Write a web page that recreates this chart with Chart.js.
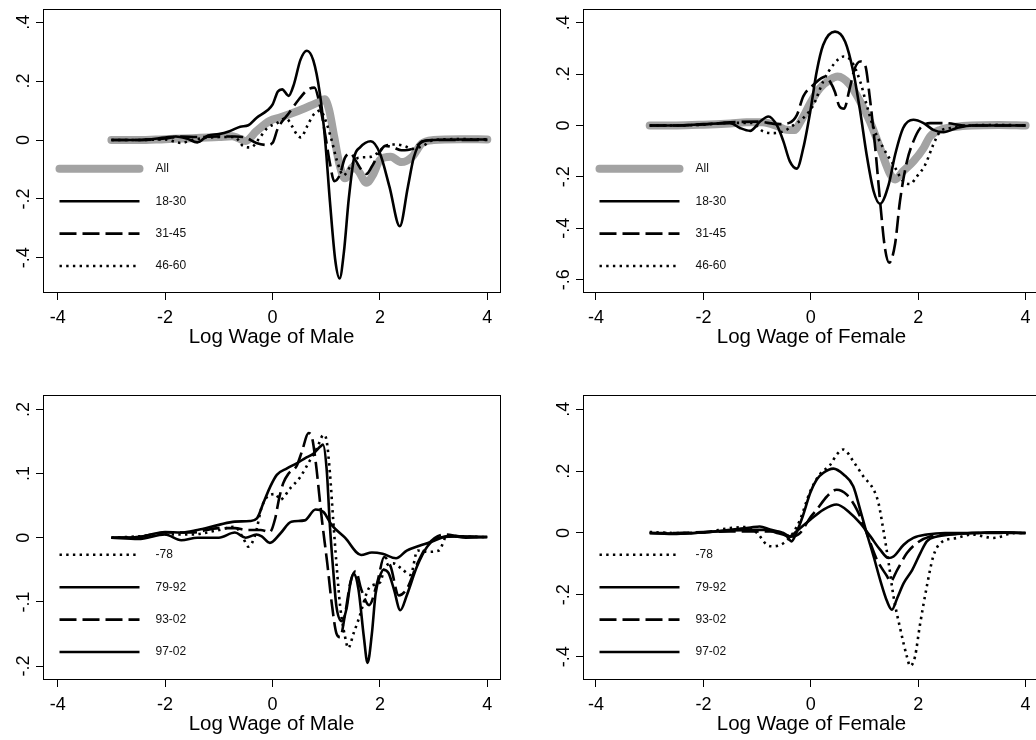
<!DOCTYPE html>
<html>
<head>
<meta charset="utf-8">
<title>Log Wage</title>
<script src="https://cdn.jsdelivr.net/npm/chart.js@4.4.1/dist/chart.umd.min.js"></script>
<style>
  html, body { margin: 0; padding: 0; background: #fff; overflow: hidden; }
  body { width: 1036px; height: 740px; position: relative; }
  canvas { position: absolute; }
</style>
</head>
<body>
<canvas id="p1" width="518" height="353" style="left:0;top:0"></canvas>
<canvas id="p2" width="522" height="353" style="left:518px;top:0"></canvas>
<canvas id="p3" width="518" height="370" style="left:0;top:370px"></canvas>
<canvas id="p4" width="522" height="370" style="left:518px;top:370px"></canvas>
<script>
const xTicks = [-4, -2, 0, 2, 4];
const xTickLabels = ['-4', '-2', '0', '2', '4'];

const yTicksMaleAge = [-0.4, -0.2, 0, 0.2, 0.4];
const yLabelsMaleAge = ['-.4', '-.2', '0', '.2', '.4'];
const yTicksFemAge = [-0.6, -0.4, -0.2, 0, 0.2, 0.4];
const yLabelsFemAge = ['-.6', '-.4', '-.2', '0', '.2', '.4'];
const yTicksMaleYr = [-0.2, -0.1, 0, 0.1, 0.2];
const yLabelsMaleYr = ['-.2', '-.1', '0', '.1', '.2'];
const yTicksFemYr = [-0.4, -0.2, 0, 0.2, 0.4];
const yLabelsFemYr = ['-.4', '-.2', '0', '.2', '.4'];

// top left: male, by age
const maleAgeAllX = [-3, -2.5, -2, -1.5, -1, -0.75, -0.5, -0.3, -0.05, 0.15, 0.35, 0.6, 0.85, 0.97, 1.05, 1.15, 1.25, 1.35, 1.5, 1.6, 1.75, 1.88, 2.0, 2.2, 2.4, 2.6, 2.78, 3.0, 3.5, 4.0];
const maleAgeAllY = [0, 0, 0.003, 0.006, 0.01, 0.013, -0.003, 0.03, 0.065, 0.077, 0.09, 0.108, 0.128, 0.138, 0.105, 0.01, -0.085, -0.13, -0.092, -0.105, -0.145, -0.115, -0.068, -0.057, -0.075, -0.057, -0.012, 0, 0.003, 0.002];
const maleAge1830X = [-3, -2.5, -2, -1.8, -1.6, -1.4, -1.2, -1, -0.8, -0.6, -0.45, -0.3, -0.1, 0, 0.1, 0.18, 0.3, 0.4, 0.52, 0.64, 0.76, 0.88, 0.98, 1.07, 1.17, 1.25, 1.33, 1.42, 1.52, 1.63, 1.83, 2.0, 2.18, 2.37, 2.52, 2.63, 2.78, 3.0, 3.5, 4];
const maleAge1830Y = [0, 0, 0.008, 0.012, 0.005, -0.008, 0.015, 0.02, 0.03, 0.045, 0.05, 0.075, 0.1, 0.12, 0.165, 0.172, 0.15, 0.19, 0.272, 0.303, 0.27, 0.16, 0, -0.21, -0.41, -0.47, -0.38, -0.2, -0.06, -0.025, -0.004, -0.045, -0.16, -0.293, -0.16, -0.06, -0.005, 0, 0.002, 0.002];
const maleAge3145X = [-3, -2.5, -2, -1.7, -1.4, -1, -0.7, -0.5, -0.3, -0.1, 0, 0.1, 0.3, 0.5, 0.65, 0.78, 0.88, 0.98, 1.07, 1.15, 1.25, 1.35, 1.45, 1.55, 1.65, 1.75, 1.85, 2.0, 2.1, 2.25, 2.4, 2.6, 2.8, 3.0, 4];
const maleAge3145Y = [0, 0, 0.005, 0.012, 0.01, 0.012, 0.012, 0.008, -0.01, -0.017, -0.01, 0.04, 0.09, 0.14, 0.17, 0.178, 0.12, 0.02, -0.08, -0.14, -0.12, -0.06, -0.045, -0.07, -0.1, -0.115, -0.09, -0.04, -0.02, -0.025, -0.035, -0.03, -0.005, 0, 0];
const maleAge4660X = [-3, -2.5, -2, -1.7, -1.5, -1.2, -1, -0.7, -0.55, -0.4, -0.25, -0.1, 0.08, 0.25, 0.37, 0.46, 0.53, 0.64, 0.76, 0.89, 1.0, 1.1, 1.2, 1.32, 1.45, 1.6, 1.8, 1.95, 2.1, 2.3, 2.45, 2.6, 2.8, 3.0, 3.5, 4];
const maleAge4660Y = [0, 0, 0.002, -0.01, 0, 0.008, 0.01, 0.01, -0.02, -0.025, 0.005, 0.04, 0.057, 0.074, 0.045, 0.017, 0.009, 0.045, 0.085, 0.1, 0.06, 0, -0.07, -0.12, -0.09, -0.06, -0.058, -0.045, -0.02, -0.015, -0.02, -0.03, -0.02, 0, 0.003, 0.002];

// top right: female, by age
const femAgeAllX = [-3, -2.5, -2, -1.5, -1.2, -0.9, -0.6, -0.45, -0.3, -0.2, -0.1, 0, 0.17, 0.36, 0.5, 0.73, 0.92, 1.1, 1.29, 1.48, 1.57, 1.72, 1.91, 2.1, 2.22, 2.41, 2.7, 3, 3.5, 4];
const femAgeAllY = [0, 0, 0.003, 0.008, 0.012, 0.012, -0.005, -0.017, -0.018, 0.012, 0.05, 0.09, 0.145, 0.178, 0.19, 0.158, 0.093, 0.016, -0.088, -0.19, -0.21, -0.178, -0.14, -0.088, -0.043, -0.017, -0.005, 0, 0.002, 0];
const femAge1830X = [-3, -2.5, -2, -1.5, -1.32, -1.13, -0.94, -0.79, -0.63, -0.51, -0.39, -0.26, -0.14, -0.01, 0.11, 0.23, 0.45, 0.64, 0.79, 0.92, 1.04, 1.17, 1.29, 1.45, 1.57, 1.72, 1.91, 2.1, 2.28, 2.47, 2.72, 3, 4];
const femAge1830Y = [0, 0, 0.005, 0.009, -0.01, -0.021, 0.016, 0.035, 0, -0.062, -0.14, -0.168, -0.088, 0.054, 0.21, 0.313, 0.365, 0.326, 0.21, 0.054, -0.114, -0.256, -0.305, -0.23, -0.114, -0.01, 0.022, 0.009, -0.017, -0.026, -0.01, 0, 0];
const femAge3145X = [-3, -2.5, -2, -1.5, -1, -0.6, -0.4, -0.26, -0.14, 0.05, 0.27, 0.36, 0.45, 0.53, 0.62, 0.72, 0.82, 0.92, 1.01, 1.1, 1.2, 1.29, 1.38, 1.46, 1.57, 1.66, 1.79, 1.91, 2.04, 2.22, 2.53, 2.84, 3.5, 4];
const femAge3145Y = [0, 0, 0.004, 0.012, 0.015, 0.005, 0.01, 0.04, 0.113, 0.158, 0.19, 0.17, 0.13, 0.075, 0.065, 0.14, 0.223, 0.249, 0.236, 0.106, -0.088, -0.295, -0.476, -0.534, -0.46, -0.295, -0.14, -0.062, -0.01, 0.009, 0.009, 0, 0, 0];
const femAge4660X = [-3, -2.5, -2, -1.5, -1.1, -0.89, -0.7, -0.51, -0.33, -0.14, 0.05, 0.23, 0.42, 0.61, 0.76, 0.92, 1.04, 1.17, 1.35, 1.54, 1.72, 1.85, 1.97, 2.13, 2.28, 2.41, 2.6, 2.97, 3.5, 4];
const femAge4660Y = [0, 0, 0.003, 0.01, 0.01, -0.023, -0.03, -0.023, 0, 0.029, 0.08, 0.171, 0.236, 0.268, 0.249, 0.171, 0.08, -0.01, -0.088, -0.153, -0.217, -0.228, -0.2, -0.153, -0.075, -0.023, -0.01, 0, 0.002, 0];

// bottom left: male, by period
const maleYr78X = [-3, -2.5, -2, -1.5, -1, -0.7, -0.55, -0.45, -0.32, -0.2, -0.04, 0.06, 0.14, 0.33, 0.52, 0.7, 0.83, 0.95, 1.01, 1.07, 1.13, 1.2, 1.26, 1.35, 1.41, 1.51, 1.6, 1.82, 2.0, 2.1, 2.25, 2.4, 2.57, 2.7, 2.9, 3.1, 3.25, 3.5, 4];
const maleYr78Y = [0, 0.002, 0.005, 0.005, 0.012, 0.017, 0, -0.014, 0.005, 0.048, 0.067, 0.068, 0.059, 0.077, 0.095, 0.121, 0.14, 0.16, 0.15, 0.1, 0.028, -0.05, -0.107, -0.154, -0.172, -0.149, -0.128, -0.076, -0.07, -0.045, -0.04, -0.048, -0.058, -0.02, -0.022, -0.02, 0.003, 0.002, 0.001];
const maleYr7992X = [-3, -2.5, -2, -1.7, -1.4, -1, -0.7, -0.42, -0.29, -0.17, -0.04, 0.08, 0.27, 0.45, 0.61, 0.76, 0.89, 0.94, 1.01, 1.07, 1.13, 1.19, 1.29, 1.38, 1.45, 1.51, 1.6, 1.7, 1.77, 1.85, 1.92, 2.0, 2.07, 2.16, 2.26, 2.38, 2.5, 2.69, 2.88, 3.1, 3.5, 4];
const maleYr7992Y = [0, 0.001, 0.009, 0.008, 0.012, 0.02, 0.025, 0.026, 0.03, 0.054, 0.08, 0.098, 0.108, 0.116, 0.124, 0.131, 0.142, 0.145, 0.105, 0.017, -0.05, -0.107, -0.13, -0.11, -0.071, -0.056, -0.08, -0.154, -0.195, -0.15, -0.087, -0.06, -0.05, -0.055, -0.08, -0.113, -0.09, -0.045, -0.014, 0, 0.002, 0.001];
const maleYr9302X = [-3, -2.5, -2, -1.5, -1, -0.7, -0.48, -0.22, -0.05, 0.05, 0.12, 0.2, 0.3, 0.45, 0.55, 0.67, 0.73, 0.8, 0.92, 1.02, 1.1, 1.19, 1.26, 1.35, 1.45, 1.55, 1.65, 1.8, 1.95, 2.08, 2.2, 2.35, 2.5, 2.7, 2.9, 3.2, 3.5, 4];
const maleYr9302Y = [0, 0.001, 0.008, 0.008, 0.015, 0.015, 0.012, 0.012, 0.009, 0.03, 0.06, 0.085, 0.1, 0.112, 0.135, 0.163, 0.158, 0.121, 0.028, -0.04, -0.1, -0.149, -0.155, -0.12, -0.07, -0.052, -0.08, -0.105, -0.07, -0.03, -0.045, -0.09, -0.08, -0.04, -0.01, 0.005, 0.002, 0.001];
const maleYr9702X = [-3, -2.5, -2, -1.7, -1.4, -1, -0.7, -0.5, -0.3, -0.2, -0.05, 0.15, 0.35, 0.6, 0.8, 0.95, 1.1, 1.35, 1.65, 1.85, 2.05, 2.3, 2.5, 2.75, 3.0, 3.3, 3.6, 4];
const maleYr9702Y = [0, -0.002, 0.005, -0.004, 0, 0, 0.008, 0, 0.005, 0.002, -0.008, 0.007, 0.025, 0.027, 0.044, 0.04, 0.02, 0, -0.027, -0.023, -0.025, -0.032, -0.02, -0.012, -0.005, 0.003, 0, 0.001];

// bottom right: female, by period
const femYr78X = [-3, -2.5, -2, -1.5, -1.2, -1.0, -0.82, -0.7, -0.51, -0.33, -0.2, -0.01, 0.17, 0.36, 0.48, 0.61, 0.79, 0.98, 1.17, 1.26, 1.35, 1.45, 1.54, 1.67, 1.79, 1.85, 1.94, 2.03, 2.16, 2.28, 2.41, 2.72, 3.0, 3.4, 3.8, 4];
const femYr78Y = [0.003, 0, 0.002, 0.016, 0.019, 0, -0.038, -0.043, -0.033, 0, 0.043, 0.135, 0.19, 0.22, 0.253, 0.27, 0.232, 0.183, 0.14, 0.097, 0.011, -0.097, -0.205, -0.313, -0.4, -0.43, -0.4, -0.3, -0.173, -0.076, -0.033, -0.016, -0.005, -0.016, 0, 0];
const femYr7992X = [-3, -2.5, -2, -1.5, -1, -0.82, -0.63, -0.45, -0.36, -0.27, -0.15, -0.01, 0.11, 0.23, 0.42, 0.61, 0.79, 0.92, 1.04, 1.17, 1.29, 1.42, 1.51, 1.61, 1.73, 1.89, 2.04, 2.16, 2.35, 2.6, 3, 3.5, 4];
const femYr7992Y = [0, -0.002, 0.002, 0.008, 0.01, 0.01, 0, -0.01, -0.027, 0, 0.054, 0.13, 0.173, 0.194, 0.208, 0.189, 0.151, 0.075, 0, -0.076, -0.151, -0.221, -0.248, -0.21, -0.162, -0.119, -0.065, -0.027, -0.011, -0.005, 0, 0.002, 0];
const femYr9302X = [-3, -2.5, -2, -1.5, -1, -0.7, -0.5, -0.38, -0.2, -0.01, 0.11, 0.3, 0.48, 0.67, 0.86, 1.04, 1.23, 1.42, 1.48, 1.61, 1.79, 1.98, 2.22, 2.6, 3, 4];
const femYr9302Y = [0, 0, 0.003, 0.005, 0.005, 0.005, 0, -0.012, 0, 0.05, 0.075, 0.118, 0.14, 0.124, 0.075, 0, -0.086, -0.14, -0.157, -0.119, -0.065, -0.032, -0.011, -0.005, 0, 0];
const femYr9702X = [-3, -2.5, -2, -1.5, -1.12, -0.95, -0.76, -0.51, -0.39, -0.27, -0.01, 0.23, 0.48, 0.73, 0.92, 1.11, 1.29, 1.45, 1.54, 1.73, 1.91, 2.16, 2.5, 3, 3.5, 4];
const femYr9702Y = [0, -0.003, 0.002, 0.01, 0.018, 0.021, 0.011, 0, -0.011, 0.005, 0.043, 0.075, 0.092, 0.065, 0.032, -0.011, -0.054, -0.081, -0.076, -0.038, -0.016, -0.005, 0, 0, 0.002, 0];

const FONT = '"Liberation Sans", Arial, Helvetica, sans-serif';

const estilos = {
  all:    { color: '#a3a3a3', width: 8, dash: [], cap: 'round' },
  solid:  { color: '#000', width: 2.6, dash: [], cap: 'butt' },
  dashed: { color: '#000', width: 2.6, dash: [17, 6], cap: 'butt' },
  dotted: { color: '#000', width: 2.6, dash: [2.4, 4.3], cap: 'butt' }
};

function serie(label, xs, ys, estilo, orden) {
  const e = estilos[estilo];
  return {
    label,
    data: xs.map((x, i) => ({ x, y: ys[i] })),
    borderColor: e.color,
    borderWidth: e.width,
    borderDash: e.dash,
    borderCapStyle: e.cap,
    borderJoinStyle: 'round',
    pointRadius: 0,
    fill: false,
    cubicInterpolationMode: 'monotone',
    order: orden || 0
  };
}

// frame around the plot region and the legend inside it
const marcoYLeyenda = {
  id: 'marcoYLeyenda',
  afterDatasetsDraw(chart) {
    const { ctx, chartArea: a } = chart;
    ctx.save();
    ctx.strokeStyle = '#000';
    ctx.lineWidth = 1;
    ctx.setLineDash([]);
    ctx.strokeRect(Math.round(a.left) + 0.5, Math.round(a.top) + 0.5, Math.round(a.right - a.left), Math.round(a.bottom - a.top));

    chart.data.datasets.forEach((ds, i) => {
      const y = a.top + 159.8 + 32.4 * i;
      ctx.strokeStyle = ds.borderColor;
      ctx.lineWidth = ds.borderWidth;
      ctx.lineCap = ds.borderCapStyle;
      ctx.setLineDash(ds.borderDash);
      ctx.beginPath();
      ctx.moveTo(a.left + 16.5, y);
      ctx.lineTo(a.left + 96.5, y);
      ctx.stroke();
      ctx.setLineDash([]);
      ctx.fillStyle = '#111';
      ctx.font = `12px ${FONT}`;
      ctx.textBaseline = 'middle';
      ctx.textAlign = 'left';
      ctx.fillText(ds.label, a.left + 112.5, y);
    });
    ctx.restore();
  }
};

function panel(id, datasets, cfg) {
  return new Chart(document.getElementById(id), {
    type: 'line',
    data: { datasets },
    options: {
      responsive: false,
      animation: false,
      layout: { padding: { top: cfg.top, right: cfg.right, left: 0, bottom: 0 } },
      plugins: { legend: { display: false }, tooltip: { enabled: false } },
      scales: {
        x: {
          type: 'linear',
          min: cfg.xMin,
          max: cfg.xMax,
          afterBuildTicks: s => { s.ticks = xTicks.map(v => ({ value: v })); },
          afterFit: s => { s.height = 61; s.paddingLeft = 0; s.paddingRight = 0; },
          border: { display: false },
          grid: { drawOnChartArea: false, drawTicks: true, tickLength: 8, color: '#000', lineWidth: 1 },
          ticks: {
            font: { family: FONT, size: 18 },
            color: '#000',
            padding: 7.5,
            autoSkip: false,
            maxRotation: 0,
            callback: (v, i) => xTickLabels[i]
          },
          title: {
            display: true,
            text: cfg.title,
            font: { family: FONT, size: 20.5 },
            color: '#000',
            padding: { top: 0, bottom: 3.2 }
          }
        },
        y: {
          type: 'linear',
          min: cfg.yMin,
          max: cfg.yMax,
          afterBuildTicks: s => { s.ticks = cfg.yTicks.map(v => ({ value: v })); },
          afterFit: s => { s.width = cfg.yWidth; s.paddingTop = 0; s.paddingBottom = 0; },
          border: { display: false },
          grid: { drawOnChartArea: false, drawTicks: true, tickLength: 7, color: '#000', lineWidth: 1 },
          ticks: {
            font: { family: FONT, size: 18 },
            color: '#000',
            padding: 1.5,
            autoSkip: false,
            minRotation: 90,
            maxRotation: 90,
            crossAlign: 'center',
            callback: (v, i) => cfg.yLabels[i]
          }
        }
      }
    },
    plugins: [marcoYLeyenda]
  });
}

panel('p1', [
  serie('All', maleAgeAllX, maleAgeAllY, 'all', 1),
  serie('18-30', maleAge1830X, maleAge1830Y, 'solid'),
  serie('31-45', maleAge3145X, maleAge3145Y, 'dashed'),
  serie('46-60', maleAge4660X, maleAge4660Y, 'dotted')
], { top: 9, right: 18, yWidth: 43, xMin: -4.274, xMax: 4.2365, yMin: -0.516, yMax: 0.4448,
     yTicks: yTicksMaleAge, yLabels: yLabelsMaleAge, title: 'Log Wage of Male' });

panel('p2', [
  serie('All', femAgeAllX, femAgeAllY, 'all', 1),
  serie('18-30', femAge1830X, femAge1830Y, 'solid'),
  serie('31-45', femAge3145X, femAge3145Y, 'dashed'),
  serie('46-60', femAge4660X, femAge4660Y, 'dotted')
], { top: 9, right: 0, yWidth: 65, xMin: -4.242, xMax: 4.268, yMin: -0.648, yMax: 0.453,
     yTicks: yTicksFemAge, yLabels: yLabelsFemAge, title: 'Log Wage of Female' });

panel('p3', [
  serie('-78', maleYr78X, maleYr78Y, 'dotted'),
  serie('79-92', maleYr7992X, maleYr7992Y, 'solid'),
  serie('93-02', maleYr9302X, maleYr9302Y, 'dashed'),
  serie('97-02', maleYr9702X, maleYr9702Y, 'solid')
], { top: 25, right: 18, yWidth: 43, xMin: -4.274, xMax: 4.2365, yMin: -0.2202, yMax: 0.2224,
     yTicks: yTicksMaleYr, yLabels: yLabelsMaleYr, title: 'Log Wage of Male' });

panel('p4', [
  serie('-78', femYr78X, femYr78Y, 'dotted'),
  serie('79-92', femYr7992X, femYr7992Y, 'solid'),
  serie('93-02', femYr9302X, femYr9302Y, 'dashed'),
  serie('97-02', femYr9702X, femYr9702Y, 'solid')
], { top: 25, right: 0, yWidth: 65, xMin: -4.242, xMax: 4.268, yMin: -0.4721, yMax: 0.4462,
     yTicks: yTicksFemYr, yLabels: yLabelsFemYr, title: 'Log Wage of Female' });
</script>
</body>
</html>
